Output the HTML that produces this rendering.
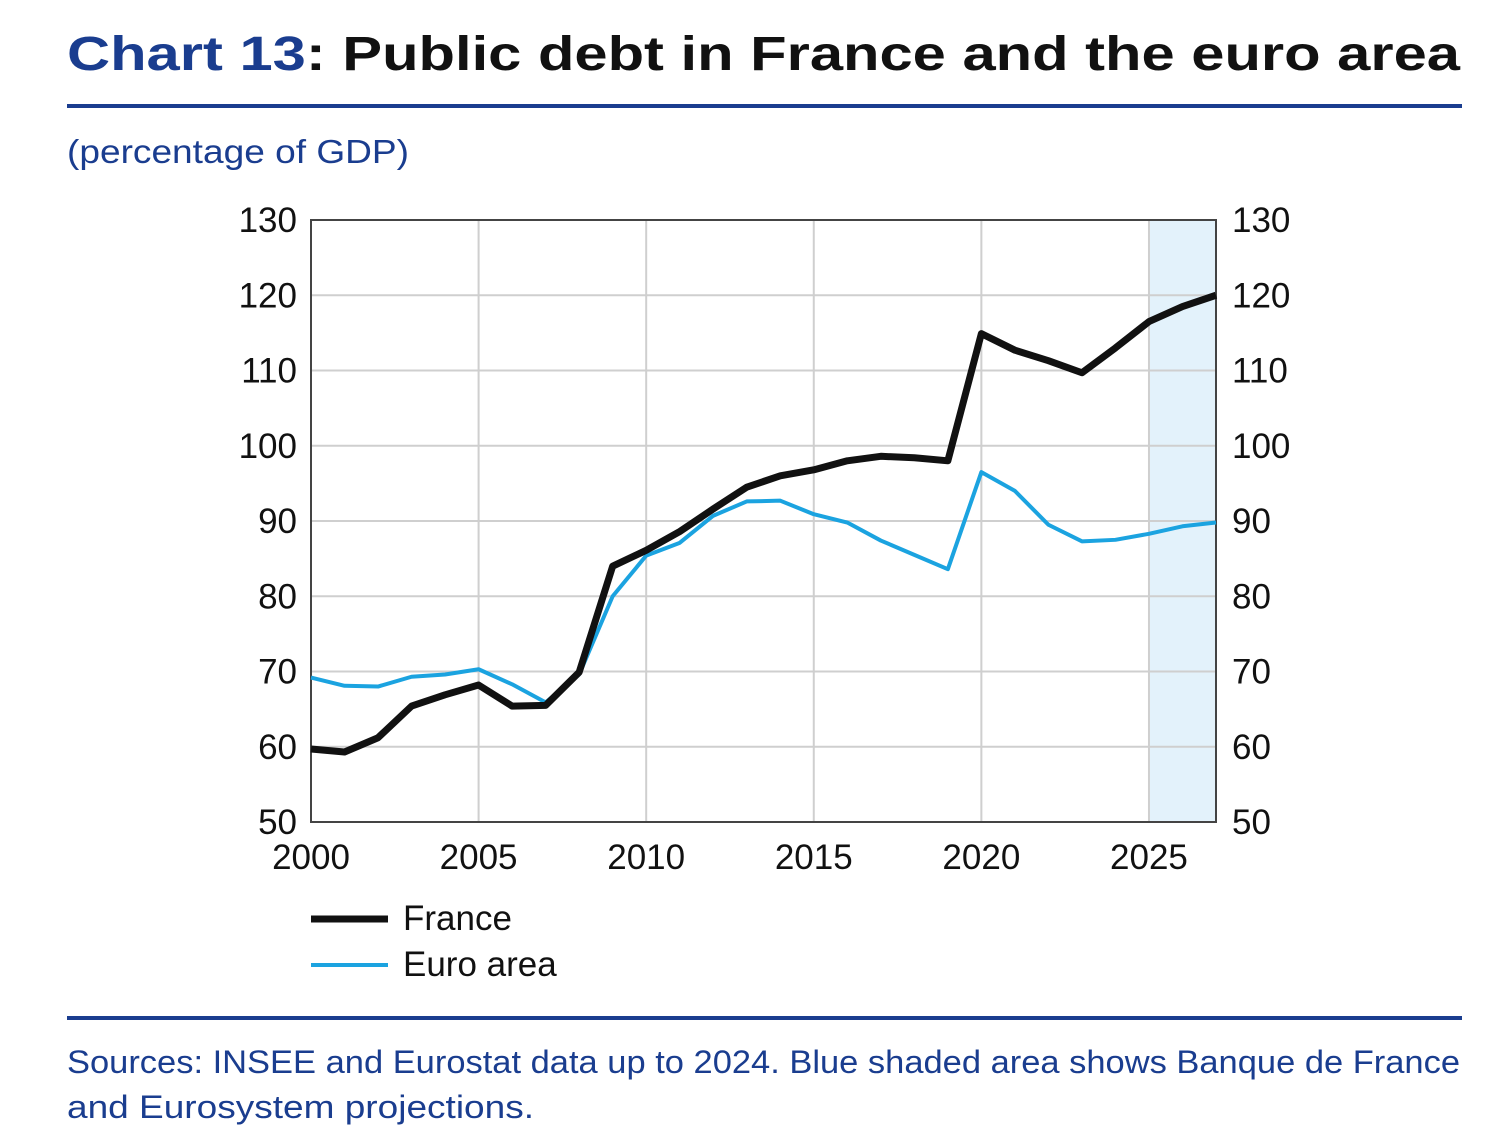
<!DOCTYPE html>
<html><head><meta charset="utf-8"><style>
body{margin:0;background:#fff;font-family:"Liberation Sans",Arial,sans-serif;}
svg{display:block}
</style></head><body>
<svg width="1508" height="1133" viewBox="0 0 1508 1133" font-family="Liberation Sans, Arial, sans-serif">
<text x="67" y="70" font-size="48" font-weight="bold" textLength="1393" lengthAdjust="spacingAndGlyphs"><tspan fill="#1a3d8f">Chart 13</tspan><tspan fill="#111">: Public debt in France and the euro area</tspan></text>
<rect x="67" y="104" width="1395" height="4" fill="#1a3d8f"/>
<text x="67" y="163" font-size="33" fill="#1a3d8f" textLength="342" lengthAdjust="spacingAndGlyphs">(percentage of GDP)</text>
<g id="plot"></g>
<rect x="67" y="1016" width="1395" height="4" fill="#1a3d8f"/>
<text x="67" y="1073" font-size="32" fill="#1a3d8f" textLength="1393" lengthAdjust="spacingAndGlyphs">Sources: INSEE and Eurostat data up to 2024. Blue shaded area shows Banque de France</text>
<text x="67" y="1118" font-size="32" fill="#1a3d8f" textLength="467" lengthAdjust="spacingAndGlyphs">and Eurosystem projections.</text>
<line x1="311" y1="919" x2="388" y2="919" stroke="#111" stroke-width="7"/>
<text x="403" y="930" font-size="35" fill="#111">France</text>
<line x1="311" y1="965" x2="388" y2="965" stroke="#1ba3e0" stroke-width="4"/>
<text x="403" y="976" font-size="35" fill="#111">Euro area</text>
</svg>
<script>
const years=[2000,2001,2002,2003,2004,2005,2006,2007,2008,2009,2010,2011,2012,2013,2014,2015,2016,2017,2018,2019,2020,2021,2022,2023,2024,2025,2026,2027];
const france=[59.7,59.3,61.2,65.4,66.9,68.2,65.4,65.5,69.9,84.0,86.1,88.6,91.6,94.5,96.0,96.8,98.0,98.6,98.4,98.0,114.9,112.7,111.3,109.7,113.0,116.5,118.5,120.0];
const euroArea=[69.2,68.1,68.0,69.3,69.6,70.3,68.3,65.9,69.6,80.0,85.4,87.1,90.7,92.6,92.7,90.9,89.8,87.4,85.5,83.6,96.5,94.0,89.5,87.3,87.5,88.3,89.3,89.8];
const yTicks=[50,60,70,80,90,100,110,120,130];
const xTicks=[2000,2005,2010,2015,2020,2025];
const projStart=2025;
const NS="http://www.w3.org/2000/svg";
const L=311,R=1216,T=220,B=822;
const xs=y=>L+(y-2000)/27*(R-L);
const ys=v=>B-(v-50)/80*(B-T);
const g=document.getElementById('plot');
function mk(tag,at,parent){const e=document.createElementNS(NS,tag);for(const k in at)e.setAttribute(k,at[k]);(parent||g).appendChild(e);return e;}
const sh=mk('rect',{x:xs(projStart),y:T,width:R-xs(projStart),height:B-T,fill:'#e3f2fb'});


yTicks.forEach(v=>{
  const l=mk('line',{x1:L,x2:R,y1:ys(v),y2:ys(v),stroke:'#cfcfcf','stroke-width':2});
  
  
  const a=mk('text',{x:L-14,y:ys(v)+12,'font-size':35,'text-anchor':'end',fill:'#111'});a.textContent=v;
  
  
  const b=mk('text',{x:R+16,y:ys(v)+12,'font-size':35,fill:'#111'});b.textContent=v;
  
  
});
xTicks.forEach(y=>{
  const l=mk('line',{x1:xs(y),x2:xs(y),y1:T,y2:B,stroke:'#cfcfcf','stroke-width':2});
  
  
  const t=mk('text',{x:xs(y),y:B+47,'font-size':35,'text-anchor':'middle',fill:'#111'});t.textContent=y;
  
  
});
const fr=mk('rect',{x:L,y:T,width:R-L,height:B-T,fill:'none',stroke:'#444','stroke-width':2});


function line(data,col,w,name){
  const p=mk('polyline',{points:data.map((v,i)=>xs(years[i])+','+ys(v)).join(' '),fill:'none',stroke:col,'stroke-width':w,'stroke-linejoin':'round'});
  
  
}
line(euroArea,'#1ba3e0',4,'euro-area-line');
line(france,'#111',7,'france-line');
</script>
</body></html>
